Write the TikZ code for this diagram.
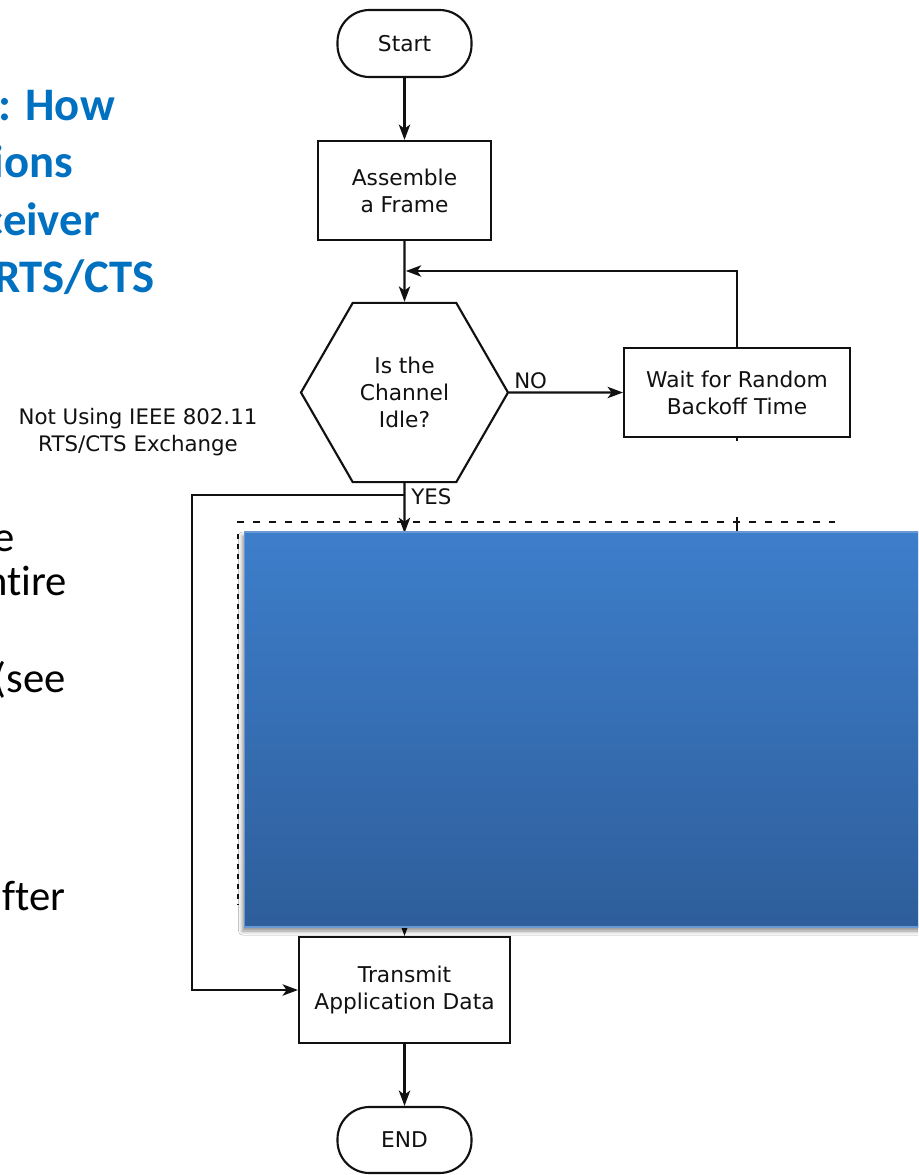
\documentclass[tikz,border=0pt]{standalone}
\usepackage{fontspec}
\setmainfont{DejaVu Sans}
\newfontfamily\calib[Ligatures=NoCommon]{Carlito}
\usetikzlibrary{arrows.meta,shapes.geometric,shadows.blur}

\definecolor{titleblue}{HTML}{0070C0}
\definecolor{boxtop}{HTML}{3D7ECB}
\definecolor{boxbot}{HTML}{2E5E9B}
\definecolor{boxedge}{HTML}{6A98D2}
\definecolor{ink}{HTML}{111111}

\begin{document}
\begin{tikzpicture}[x=0.75pt,y=-0.75pt,
  flow/.style={draw=ink, line width=1.6pt, fill=white, align=center,
    font=\fontsize{16.3}{20.25}\selectfont, text=ink, inner sep=0pt},
  boxnode/.style={flow, rectangle},
  term/.style={flow, rectangle, rounded corners=24pt},
  hexnode/.style={flow, regular polygon, regular polygon sides=6},
  conn/.style={draw=ink, line width=1.6pt},
  arr/.style={conn, -{Stealth[length=11.5pt,width=8.5pt,inset=3pt]}},
  titletext/.style={font=\calib\bfseries\fontsize{35}{42}\selectfont, text=titleblue, anchor=base east, inner sep=0pt},
  bodytext/.style={font=\calib\fontsize{32}{38}\selectfont, text=black, anchor=base east, inner sep=0pt},
  note/.style={font=\fontsize{16}{20.5}\selectfont, align=center, text=ink, inner sep=0pt},
  dotline/.style={draw=ink, line width=2.1pt},
  cover/.style={rectangle, draw=boxedge, line width=0.8pt, top color=boxtop, bottom color=boxbot,
    minimum width=514.5pt, minimum height=296.25pt, inner sep=0pt,
    blur shadow={shadow xshift=-1.5pt, shadow yshift=-3pt, shadow blur radius=3pt, shadow opacity=45}}
]
\useasboundingbox (0,0) rectangle (918,1175);
\clip (0,0) rectangle (918,1175);
\fill[white] (0,0) rectangle (918,1175);

% slide text (cut at the left edge)
\node[titletext] (t1) at (115,120) {: How};
\node[titletext] (t2) at (73,177) {ions};
\node[titletext] (t3) at (100,235) {ceiver};
\node[titletext] (t4) at (155,292) {RTS/CTS};
\node[bodytext] (b1) at (15,551) {e};
\node[bodytext] (b2) at (67,595) {ntire};
\node[bodytext] (b3) at (66,692) {(see};
\node[bodytext, anchor=base west] (b4) at (2,910) {fter};

\node[note] (caption) at (138,432) {Not Using IEEE 802.11\\RTS/CTS Exchange};

% flowchart nodes
\node[term, minimum width=100.5pt, minimum height=50.25pt] (start) at (404.5,43.5) {Start};
\node[boxnode, minimum width=129.75pt, minimum height=74.25pt] (assemble) at (404.5,190.5) {Assemble\\a Frame};
\node[hexnode, minimum size=155.25pt] (idle) at (404.5,392.5) {Is the\\Channel\\Idle?};
\node[boxnode, minimum width=169.5pt, minimum height=66.75pt] (wait) at (737,392.5) {Wait for Random\\Backoff Time};
\node[boxnode, minimum width=158.25pt, minimum height=79.5pt] (transmit) at (404.5,990) {Transmit\\Application Data};
\node[term, minimum width=100.5pt, minimum height=49.5pt] (end) at (404.5,1140) {END};

\coordinate (merge) at (404.5,271);
\coordinate (branch) at (404.5,495);
\coordinate (lcorner) at (192,495);
\coordinate (yesend) at (404.5,533);
\coordinate (hidden) at (404.5,900);
\coordinate (tickA) at (737,441);
\coordinate (tickB1) at (737,517);
\coordinate (tickB2) at (737,532);
\coordinate (dotTL) at (237,522);
\coordinate (dotTR) at (835,522);
\coordinate (dotL1) at (238,534);
\coordinate (dotL2) at (238,905);

% connectors
\draw[arr] (start) -- (assemble);
\draw[arr] (assemble) -- (idle);
\draw[arr, shorten >=1pt] (wait.north) |- (merge);
\draw[arr] (idle.east) -- (wait.west);
\node[note, anchor=south west] (nolab) at (514,389) {NO};
\draw[arr] (idle.south) -- (yesend);
\node[note, anchor=north west] (yeslab) at (411,488) {YES};
\draw[arr] (branch) -- (lcorner) |- (transmit.west);
\draw[arr] (transmit) -- (end);
\draw[conn] (wait.south) -- (tickA);
\draw[conn, line width=1.3pt] (tickB1) -- (tickB2);

% dotted frame (top) and hidden arrow
\draw[dotline, dash pattern=on 5pt off 7pt] (dotTL) -- (dotTR);
\draw[arr] (hidden) -- (transmit.north);

% covering box
\node[cover] (coverbox) at (587.5,729.5) {};

% dotted frame (left side, beside the box shadow)
\draw[dotline, dash pattern=on 3.5pt off 4pt] (dotL1) -- (dotL2);
\end{tikzpicture}
\end{document}
